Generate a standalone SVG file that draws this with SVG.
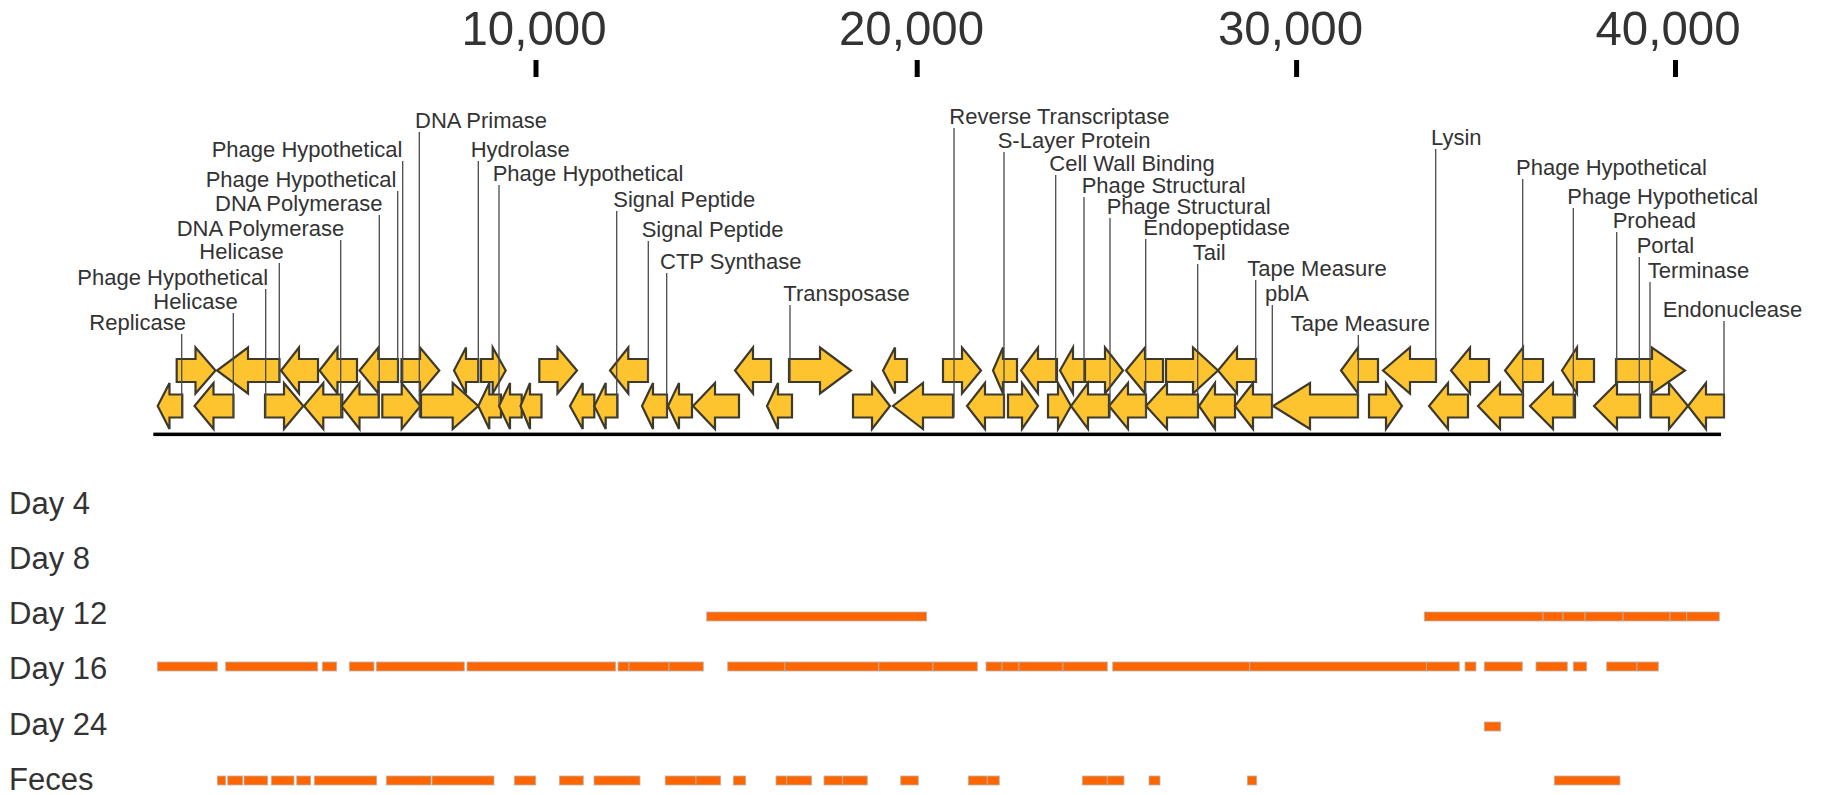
<svg xmlns="http://www.w3.org/2000/svg" width="1823" height="795" viewBox="0 0 1823 795">
<style>
text{font-family:"Liberation Sans",Arial,Helvetica,sans-serif;fill:#333}
.lbl{font-size:22px}
.ax{font-size:49px}
.row{font-size:31px}
.gene polygon{fill:#FDC42F;stroke:#3d3a2c;stroke-width:2.2;stroke-linejoin:miter}
.ld{stroke:#4a4a4a;stroke-width:1.3;fill:none}
.bar{fill:#FF6600;stroke:#b5b5b5;stroke-width:0.8}
</style>
<rect width="1823" height="795" fill="#fff"/>
<g id="axis">
<text class="ax" x="534" y="45" text-anchor="middle" textLength="145" lengthAdjust="spacingAndGlyphs">10,000</text>
<text class="ax" x="911.5" y="45" text-anchor="middle" textLength="145" lengthAdjust="spacingAndGlyphs">20,000</text>
<text class="ax" x="1290.5" y="45" text-anchor="middle" textLength="145" lengthAdjust="spacingAndGlyphs">30,000</text>
<text class="ax" x="1668" y="45" text-anchor="middle" textLength="145" lengthAdjust="spacingAndGlyphs">40,000</text>
<rect x="533.5" y="60" width="5" height="17" fill="#000"/>
<rect x="914.7" y="60" width="5" height="17" fill="#000"/>
<rect x="1294.1" y="60" width="5" height="17" fill="#000"/>
<rect x="1673" y="60" width="5" height="17" fill="#000"/>
<rect x="153.3" y="432.6" width="1567.7" height="3.5" fill="#000"/>
</g>
<g id="genes" class="gene">
<g id="gene-t1"><polygon points="176.7,359 195.5,359 195.5,347.5 215.5,370.5 195.5,393.5 195.5,382 176.7,382"/></g>
<g id="gene-t2"><polygon points="279.5,359 248,359 248,347.5 217,370.5 248,393.5 248,382 279.5,382"/></g>
<g id="gene-t3"><polygon points="318,359 299,359 299,347.5 281,370.5 299,393.5 299,382 318,382"/></g>
<g id="gene-t4"><polygon points="357,359 337.5,359 337.5,347.5 319.5,370.5 337.5,393.5 337.5,382 357,382"/></g>
<g id="gene-t5"><polygon points="398,359 378.3,359 378.3,347.5 359.5,370.5 378.3,393.5 378.3,382 398,382"/></g>
<g id="gene-t6"><polygon points="401.5,359 420,359 420,347.5 439.3,370.5 420,393.5 420,382 401.5,382"/></g>
<g id="gene-t7"><polygon points="478.3,359 466,359 466,347.5 454,370.5 466,393.5 466,382 478.3,382"/></g>
<g id="gene-t8"><polygon points="481,359 492.7,359 492.7,347.5 505.7,370.5 492.7,393.5 492.7,382 481,382"/></g>
<g id="gene-t9"><polygon points="539.3,359 557.5,359 557.5,347.5 577,370.5 557.5,393.5 557.5,382 539.3,382"/></g>
<g id="gene-t10"><polygon points="648,359 628.3,359 628.3,347.5 610,370.5 628.3,393.5 628.3,382 648,382"/></g>
<g id="gene-t11"><polygon points="771,359 753,359 753,347.5 735,370.5 753,393.5 753,382 771,382"/></g>
<g id="gene-t12"><polygon points="789,359 820,359 820,347.5 851,370.5 820,393.5 820,382 789,382"/></g>
<g id="gene-t13"><polygon points="907,359 895,359 895,347.5 883,370.5 895,393.5 895,382 907,382"/></g>
<g id="gene-t14"><polygon points="943,359 962,359 962,347.5 981,370.5 962,393.5 962,382 943,382"/></g>
<g id="gene-t15"><polygon points="1017,359 1003,359 1003,347.5 993,370.5 1003,393.5 1003,382 1017,382"/></g>
<g id="gene-t16"><polygon points="1057,359 1038,359 1038,347.5 1021,370.5 1038,393.5 1038,382 1057,382"/></g>
<g id="gene-t17"><polygon points="1085,359 1073,359 1073,347.5 1060,370.5 1073,393.5 1073,382 1085,382"/></g>
<g id="gene-t18"><polygon points="1085,359 1105,359 1105,347.5 1123,370.5 1105,393.5 1105,382 1085,382"/></g>
<g id="gene-t19"><polygon points="1163,359 1145,359 1145,347.5 1126,370.5 1145,393.5 1145,382 1163,382"/></g>
<g id="gene-t20"><polygon points="1166,359 1193,359 1193,347.5 1218,370.5 1193,393.5 1193,382 1166,382"/></g>
<g id="gene-t21"><polygon points="1256,359 1237,359 1237,347.5 1218,370.5 1237,393.5 1237,382 1256,382"/></g>
<g id="gene-t22"><polygon points="1378,359 1358,359 1358,347.5 1341,370.5 1358,393.5 1358,382 1378,382"/></g>
<g id="gene-t23"><polygon points="1436,359 1410,359 1410,347.5 1383,370.5 1410,393.5 1410,382 1436,382"/></g>
<g id="gene-t24"><polygon points="1489,359 1470,359 1470,347.5 1451,370.5 1470,393.5 1470,382 1489,382"/></g>
<g id="gene-t25"><polygon points="1543,359 1523,359 1523,347.5 1505,370.5 1523,393.5 1523,382 1543,382"/></g>
<g id="gene-t26"><polygon points="1594,359 1577,359 1577,347.5 1562,370.5 1577,393.5 1577,382 1594,382"/></g>
<g id="gene-t27"><polygon points="1616,359 1652,359 1652,347.5 1685,370.5 1652,393.5 1652,382 1616,382"/></g>
<g id="gene-b1"><polygon points="182.3,394.5 169.5,394.5 169.5,383 157.7,406 169.5,429 169.5,417.5 182.3,417.5"/></g>
<g id="gene-b2"><polygon points="233.5,394.5 213.5,394.5 213.5,383 194.5,406 213.5,429 213.5,417.5 233.5,417.5"/></g>
<g id="gene-b3"><polygon points="265,394.5 284,394.5 284,383 303.3,406 284,429 284,417.5 265,417.5"/></g>
<g id="gene-b4"><polygon points="342.3,394.5 323.3,394.5 323.3,383 304,406 323.3,429 323.3,417.5 342.3,417.5"/></g>
<g id="gene-b5"><polygon points="378.7,394.5 359.5,394.5 359.5,383 341.5,406 359.5,429 359.5,417.5 378.7,417.5"/></g>
<g id="gene-b6"><polygon points="382.3,394.5 401.7,394.5 401.7,383 420.5,406 401.7,429 401.7,417.5 382.3,417.5"/></g>
<g id="gene-b7"><polygon points="421,394.5 452.7,394.5 452.7,383 478.3,406 452.7,429 452.7,417.5 421,417.5"/></g>
<g id="gene-b8"><polygon points="501,394.5 489.3,394.5 489.3,383 478.3,406 489.3,429 489.3,417.5 501,417.5"/></g>
<g id="gene-b9"><polygon points="521.7,394.5 510,394.5 510,383 499,406 510,429 510,417.5 521.7,417.5"/></g>
<g id="gene-b10"><polygon points="541.5,394.5 530,394.5 530,383 520.5,406 530,429 530,417.5 541.5,417.5"/></g>
<g id="gene-b11"><polygon points="594.3,394.5 582.7,394.5 582.7,383 570,406 582.7,429 582.7,417.5 594.3,417.5"/></g>
<g id="gene-b12"><polygon points="617.5,394.5 605.7,394.5 605.7,383 594.3,406 605.7,429 605.7,417.5 617.5,417.5"/></g>
<g id="gene-b13"><polygon points="667,394.5 653,394.5 653,383 642,406 653,429 653,417.5 667,417.5"/></g>
<g id="gene-b14"><polygon points="692,394.5 679,394.5 679,383 668,406 679,429 679,417.5 692,417.5"/></g>
<g id="gene-b15"><polygon points="739,394.5 715,394.5 715,383 693,406 715,429 715,417.5 739,417.5"/></g>
<g id="gene-b16"><polygon points="792,394.5 778,394.5 778,383 767,406 778,429 778,417.5 792,417.5"/></g>
<g id="gene-b17"><polygon points="853,394.5 872,394.5 872,383 890,406 872,429 872,417.5 853,417.5"/></g>
<g id="gene-b18"><polygon points="953,394.5 923,394.5 923,383 893,406 923,429 923,417.5 953,417.5"/></g>
<g id="gene-b19"><polygon points="1004,394.5 985,394.5 985,383 967,406 985,429 985,417.5 1004,417.5"/></g>
<g id="gene-b20"><polygon points="1008,394.5 1022,394.5 1022,383 1038,406 1022,429 1022,417.5 1008,417.5"/></g>
<g id="gene-b21"><polygon points="1048,394.5 1058,394.5 1058,383 1071,406 1058,429 1058,417.5 1048,417.5"/></g>
<g id="gene-b22"><polygon points="1109,394.5 1088,394.5 1088,383 1071,406 1088,429 1088,417.5 1109,417.5"/></g>
<g id="gene-b23"><polygon points="1146,394.5 1128,394.5 1128,383 1109,406 1128,429 1128,417.5 1146,417.5"/></g>
<g id="gene-b24"><polygon points="1198,394.5 1167,394.5 1167,383 1146,406 1167,429 1167,417.5 1198,417.5"/></g>
<g id="gene-b25"><polygon points="1235,394.5 1215,394.5 1215,383 1199,406 1215,429 1215,417.5 1235,417.5"/></g>
<g id="gene-b26"><polygon points="1272,394.5 1253,394.5 1253,383 1235,406 1253,429 1253,417.5 1272,417.5"/></g>
<g id="gene-b27"><polygon points="1358,394.5 1310,394.5 1310,383 1273,406 1310,429 1310,417.5 1358,417.5"/></g>
<g id="gene-b28"><polygon points="1369,394.5 1386,394.5 1386,383 1402,406 1386,429 1386,417.5 1369,417.5"/></g>
<g id="gene-b29"><polygon points="1468,394.5 1448,394.5 1448,383 1429,406 1448,429 1448,417.5 1468,417.5"/></g>
<g id="gene-b30"><polygon points="1523,394.5 1500,394.5 1500,383 1478,406 1500,429 1500,417.5 1523,417.5"/></g>
<g id="gene-b31"><polygon points="1575,394.5 1553,394.5 1553,383 1530,406 1553,429 1553,417.5 1575,417.5"/></g>
<g id="gene-b32"><polygon points="1640,394.5 1617,394.5 1617,383 1594,406 1617,429 1617,417.5 1640,417.5"/></g>
<g id="gene-b33"><polygon points="1651,394.5 1669,394.5 1669,383 1688,406 1669,429 1669,417.5 1651,417.5"/></g>
<g id="gene-b34"><polygon points="1724,394.5 1706,394.5 1706,383 1688,406 1706,429 1706,417.5 1724,417.5"/></g>
</g>
<g id="connectors" class="ld">
<line x1="181.7" y1="334" x2="181.7" y2="417.5"/>
<line x1="233.3" y1="313" x2="233.3" y2="417.5"/>
<line x1="265.7" y1="289" x2="265.7" y2="417.5"/>
<line x1="279.3" y1="263" x2="279.3" y2="382"/>
<line x1="340.7" y1="240" x2="340.7" y2="417.5"/>
<line x1="379.3" y1="215" x2="379.3" y2="417.5"/>
<line x1="397.7" y1="191" x2="397.7" y2="382"/>
<line x1="402.7" y1="161" x2="402.7" y2="382"/>
<line x1="419.3" y1="132" x2="419.3" y2="417.5"/>
<line x1="478.3" y1="161" x2="478.3" y2="382"/>
<line x1="499" y1="185" x2="499" y2="406"/>
<line x1="616.7" y1="211" x2="616.7" y2="417.5"/>
<line x1="648.3" y1="241" x2="648.3" y2="382"/>
<line x1="666.7" y1="273" x2="666.7" y2="417.5"/>
<line x1="790" y1="305" x2="790" y2="382"/>
<line x1="954" y1="128" x2="954" y2="417.5"/>
<line x1="1004" y1="152" x2="1004" y2="417.5"/>
<line x1="1055.7" y1="175" x2="1055.7" y2="382"/>
<line x1="1084" y1="197" x2="1084" y2="382"/>
<line x1="1110" y1="218" x2="1110" y2="417.5"/>
<line x1="1145.7" y1="239" x2="1145.7" y2="417.5"/>
<line x1="1197.7" y1="264" x2="1197.7" y2="417.5"/>
<line x1="1255.7" y1="280" x2="1255.7" y2="382"/>
<line x1="1272.3" y1="305" x2="1272.3" y2="417.5"/>
<line x1="1358.3" y1="335" x2="1358.3" y2="417.5"/>
<line x1="1435.7" y1="149" x2="1435.7" y2="382"/>
<line x1="1522.7" y1="179" x2="1522.7" y2="417.5"/>
<line x1="1573.3" y1="208" x2="1573.3" y2="417.5"/>
<line x1="1616.7" y1="232" x2="1616.7" y2="382"/>
<line x1="1639.3" y1="257" x2="1639.3" y2="417.5"/>
<line x1="1650" y1="282" x2="1650" y2="417.5"/>
<line x1="1724" y1="321" x2="1724" y2="417.5"/>
</g>
<g id="labels" class="lbl">
<g id="lab-replicase"><text x="89.3" y="330">Replicase</text></g>
<g id="lab-helicase1"><text x="153.3" y="309">Helicase</text></g>
<g id="lab-phage1"><text x="77.3" y="285">Phage Hypothetical</text></g>
<g id="lab-helicase2"><text x="199.3" y="259">Helicase</text></g>
<g id="lab-dnapol1"><text x="176.7" y="236.3">DNA Polymerase</text></g>
<g id="lab-dnapol2"><text x="215" y="210.7">DNA Polymerase</text></g>
<g id="lab-phage2"><text x="205.7" y="187.3">Phage Hypothetical</text></g>
<g id="lab-phage3"><text x="211.7" y="156.7">Phage Hypothetical</text></g>
<g id="lab-primase"><text x="415" y="128.3">DNA Primase</text></g>
<g id="lab-hydrolase"><text x="470.7" y="157.3">Hydrolase</text></g>
<g id="lab-phage4"><text x="492.7" y="180.7">Phage Hypothetical</text></g>
<g id="lab-signal1"><text x="613.3" y="207.3">Signal Peptide</text></g>
<g id="lab-signal2"><text x="641.7" y="237.3">Signal Peptide</text></g>
<g id="lab-ctp"><text x="660" y="269">CTP Synthase</text></g>
<g id="lab-transposase"><text x="783.3" y="300.7">Transposase</text></g>
<g id="lab-rt"><text x="949.3" y="124">Reverse Transcriptase</text></g>
<g id="lab-slayer"><text x="997.7" y="148.3">S-Layer Protein</text></g>
<g id="lab-cellwall"><text x="1049.3" y="171.3">Cell Wall Binding</text></g>
<g id="lab-struct1"><text x="1081.7" y="193">Phage Structural</text></g>
<g id="lab-struct2"><text x="1106.7" y="214">Phage Structural</text></g>
<g id="lab-endopep"><text x="1143.3" y="235">Endopeptidase</text></g>
<g id="lab-tail"><text x="1192.7" y="259.7">Tail</text></g>
<g id="lab-tape1"><text x="1247.3" y="275.7">Tape Measure</text></g>
<g id="lab-pbla"><text x="1265" y="300.7">pblA</text></g>
<g id="lab-tape2"><text x="1290.7" y="330.7">Tape Measure</text></g>
<g id="lab-lysin"><text x="1431" y="144.7">Lysin</text></g>
<g id="lab-phage5"><text x="1516" y="175">Phage Hypothetical</text></g>
<g id="lab-phage6"><text x="1567.3" y="204">Phage Hypothetical</text></g>
<g id="lab-prohead"><text x="1612.7" y="228.3">Prohead</text></g>
<g id="lab-portal"><text x="1636.7" y="253.3">Portal</text></g>
<g id="lab-terminase"><text x="1647.7" y="278">Terminase</text></g>
<g id="lab-endonuclease"><text x="1662.7" y="316.7">Endonuclease</text></g>
</g>
<g id="row-labels" class="row">
<text x="9" y="513.5">Day 4</text>
<text x="9" y="568.5">Day 8</text>
<text x="9" y="624">Day 12</text>
<text x="9" y="678.5">Day 16</text>
<text x="9" y="735">Day 24</text>
<text x="9" y="790">Feces</text>
</g>
<g id="track-day12" class="bar">
<rect x="706.7" y="612" width="220" height="9"/>
<rect x="1424.3" y="612" width="118.7" height="9"/>
<rect x="1543" y="612" width="20" height="9"/>
<rect x="1563" y="612" width="22" height="9"/>
<rect x="1585" y="612" width="38" height="9"/>
<rect x="1623" y="612" width="47" height="9"/>
<rect x="1670" y="612" width="16.7" height="9"/>
<rect x="1686.7" y="612" width="32.6" height="9"/>
</g>
<g id="track-day16" class="bar">
<rect x="157.3" y="662" width="60" height="9"/>
<rect x="225.7" y="662" width="92" height="9"/>
<rect x="322.3" y="662" width="14.4" height="9"/>
<rect x="349.3" y="662" width="24.7" height="9"/>
<rect x="376.3" y="662" width="88" height="9"/>
<rect x="467" y="662" width="148.7" height="9"/>
<rect x="618" y="662" width="11" height="9"/>
<rect x="629" y="662" width="40" height="9"/>
<rect x="669" y="662" width="34.3" height="9"/>
<rect x="727.7" y="662" width="57.3" height="9"/>
<rect x="785" y="662" width="93.8" height="9"/>
<rect x="878.8" y="662" width="54.2" height="9"/>
<rect x="933" y="662" width="44.3" height="9"/>
<rect x="986" y="662" width="16" height="9"/>
<rect x="1002" y="662" width="17" height="9"/>
<rect x="1019" y="662" width="44" height="9"/>
<rect x="1063" y="662" width="44.3" height="9"/>
<rect x="1112.7" y="662" width="137" height="9"/>
<rect x="1249.7" y="662" width="176.8" height="9"/>
<rect x="1426.5" y="662" width="32.8" height="9"/>
<rect x="1465" y="662" width="11" height="9"/>
<rect x="1484.3" y="662" width="38" height="9"/>
<rect x="1536" y="662" width="31.3" height="9"/>
<rect x="1573.3" y="662" width="13.4" height="9"/>
<rect x="1606.7" y="662" width="30.3" height="9"/>
<rect x="1637" y="662" width="21.3" height="9"/>
</g>
<g id="track-day24" class="bar">
<rect x="1484.3" y="722" width="16.4" height="9"/>
</g>
<g id="track-feces" class="bar">
<rect x="217.3" y="776" width="8.4" height="9"/>
<rect x="227.7" y="776" width="15" height="9"/>
<rect x="244" y="776" width="23.7" height="9"/>
<rect x="271.3" y="776" width="22.7" height="9"/>
<rect x="296.7" y="776" width="14" height="9"/>
<rect x="314.3" y="776" width="62.4" height="9"/>
<rect x="386.3" y="776" width="44.7" height="9"/>
<rect x="432" y="776" width="62" height="9"/>
<rect x="514.3" y="776" width="21.4" height="9"/>
<rect x="559.3" y="776" width="24" height="9"/>
<rect x="594" y="776" width="46" height="9"/>
<rect x="665.2" y="776" width="30.8" height="9"/>
<rect x="696" y="776" width="24.7" height="9"/>
<rect x="733.3" y="776" width="12.4" height="9"/>
<rect x="776" y="776" width="10.7" height="9"/>
<rect x="786.7" y="776" width="25" height="9"/>
<rect x="824" y="776" width="18.7" height="9"/>
<rect x="842.7" y="776" width="24.6" height="9"/>
<rect x="900.7" y="776" width="17.6" height="9"/>
<rect x="968.3" y="776" width="19" height="9"/>
<rect x="987.3" y="776" width="12" height="9"/>
<rect x="1082.3" y="776" width="25" height="9"/>
<rect x="1107.3" y="776" width="16.7" height="9"/>
<rect x="1149" y="776" width="11" height="9"/>
<rect x="1247.3" y="776" width="9.4" height="9"/>
<rect x="1554.3" y="776" width="65.7" height="9"/>
</g>
</svg>
